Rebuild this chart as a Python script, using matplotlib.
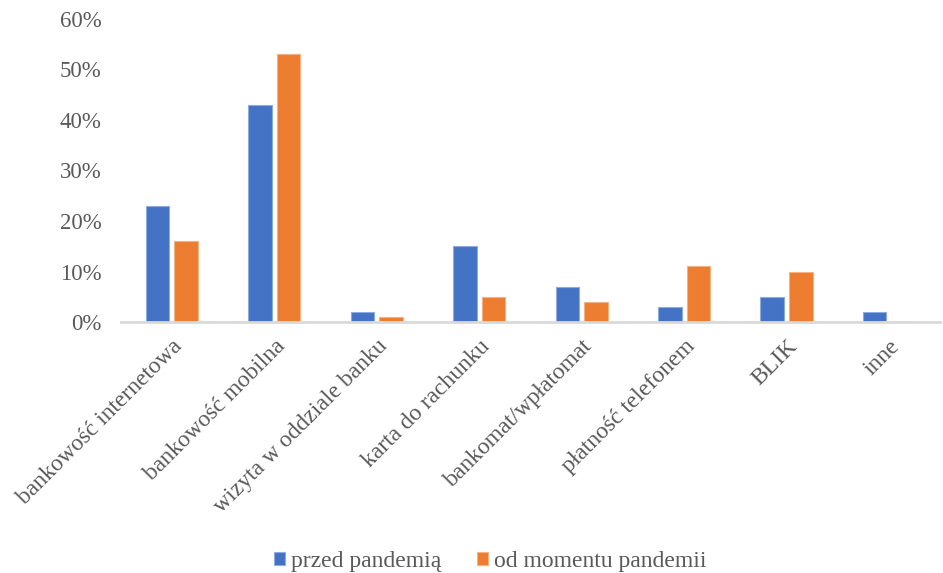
import matplotlib.pyplot as plt
import numpy as np
from matplotlib.ticker import PercentFormatter

categories = [
    "bankowość internetowa",
    "bankowość mobilna",
    "wizyta w oddziale banku",
    "karta do rachunku",
    "bankomat/wpłatomat",
    "płatność telefonem",
    "BLIK",
    "inne",
]
before = [23, 43, 2, 15, 7, 3, 5, 2]
since = [16, 53, 1, 5, 4, 11, 10, 0]
series_names = ["przed pandemią", "od momentu pandemii"]

BLUE = "#4472C4"
ORANGE = "#ED7D31"
TEXT = "#595959"

plt.rcParams["font.family"] = ["Liberation Serif", "DejaVu Serif"]

fig = plt.figure(figsize=(9.43, 5.73), dpi=100)
ax = fig.add_axes([0.128, 0.438, 0.869, 0.529])

x = np.arange(len(categories))
width = 0.23
offset = 0.14
ax.bar(x - offset, before, width, color=BLUE, edgecolor="#8FAADC",
       linewidth=0.8, label=series_names[0], zorder=2)
ax.bar(x + offset, since, width, color=ORANGE, edgecolor="#F4B183",
       linewidth=0.8, label=series_names[1], zorder=2)

ax.set_xlim(-0.5, len(categories) - 0.5)
ax.set_ylim(0, 60)
ax.set_yticks(np.arange(0, 61, 10))
ax.yaxis.set_major_formatter(PercentFormatter(decimals=0))

for side in ("top", "right", "left"):
    ax.spines[side].set_visible(False)
ax.spines["bottom"].set_color("#D9D9D9")
ax.spines["bottom"].set_linewidth(2)
ax.spines["bottom"].set_zorder(3)

ax.set_xticks(x)
ax.set_xticklabels(categories, rotation=45, ha="right", rotation_mode="anchor")
ax.tick_params(axis="x", length=0, labelsize=17, labelcolor=TEXT, pad=10)
ax.tick_params(axis="y", length=0, labelsize=16.5, labelcolor=TEXT, pad=14)

fig.legend(loc="lower center", bbox_to_anchor=(0.520, -0.035), ncol=2,
           frameon=False, fontsize=17, labelcolor=TEXT,
           handlelength=0.47, handleheight=0.47, handletextpad=0.25,
           columnspacing=1.5)

fig.savefig("out.png", dpi=100)
